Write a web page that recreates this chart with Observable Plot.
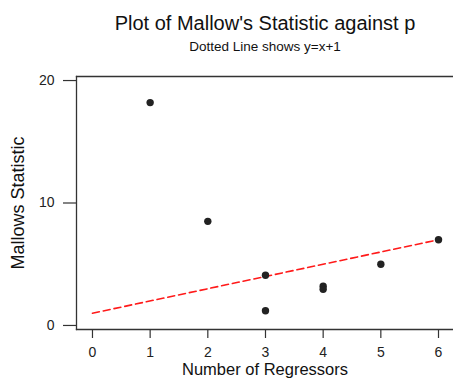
<!DOCTYPE html>
<html><head><meta charset="utf-8">
<script src="https://cdn.jsdelivr.net/npm/d3@7"></script>
<script src="https://cdn.jsdelivr.net/npm/@observablehq/plot@0.6"></script>
<style>
html,body{margin:0;padding:0;background:#fff;overflow:hidden;}
</style>
</head><body>
<div id="chart"></div>
<script>
const title = "Plot of Mallow's Statistic against p";
const subtitle = "Dotted Line shows y=x+1";
const xLabel = "Number of Regressors";
const yLabel = "Mallows Statistic";
const regressors = [1, 2, 3, 3, 4, 4, 5, 6];
const mallowsCp = [18.2, 8.5, 4.1, 1.2, 3.2, 2.95, 5.0, 7.0];
const lineX = [0, 6];
const xTicks = [0, 1, 2, 3, 4, 5, 6];
const yTicks = [0, 10, 20];

const points = regressors.map((p, i) => ({p, cp: mallowsCp[i]}));
const ref = lineX.map(p => ({p, cp: p + 1}));

const font = "'Liberation Sans', Arial, sans-serif";
const chart = Plot.plot({
  width: 453, height: 381,
  marginLeft: 76, marginRight: 0, marginTop: 76, marginBottom: 52,
  style: {fontFamily: font, background: "#fff", color: "#222"},
  x: {domain: [-0.277, 6.26], ticks: xTicks},
  y: {domain: [-0.33, 20.33], ticks: yTicks},
  marks: [
    Plot.frame({anchor: "top", stroke: "#333", strokeWidth: 1.3}),
    Plot.frame({anchor: "left", stroke: "#333", strokeWidth: 1.3}),
    Plot.frame({anchor: "bottom", stroke: "#333", strokeWidth: 1.3}),
    Plot.axisX({ticks: xTicks, tickFormat: "d", tickSize: 9, tickPadding: 9, fontSize: 14, label: null, stroke: "#333", strokeWidth: 1.2}),
    Plot.axisY({ticks: yTicks, tickFormat: "d", tickSize: 13, tickPadding: 9, fontSize: 14, label: null, stroke: "#333", strokeWidth: 1.2}),
    Plot.line(ref, {x: "p", y: "cp", stroke: "#ff1a1a", strokeWidth: 1.6, strokeDasharray: "7,4"}),
    Plot.dot(points, {x: "p", y: "cp", r: 3.7, fill: "#222", stroke: "none"}),
    Plot.text([title], {frameAnchor: "top", dy: -61, fontSize: 20, fill: "#111"}),
    Plot.text([subtitle], {frameAnchor: "top", dy: -35, fontSize: 13.5, fill: "#111"}),
    Plot.text([xLabel], {frameAnchor: "bottom", dy: 45, fontSize: 16.5, fill: "#111"}),
    Plot.text([yLabel], {frameAnchor: "left", dx: -58, rotate: -90, textAnchor: "middle", fontSize: 18, fill: "#111"})
  ]
});
document.getElementById("chart").appendChild(chart);
</script>
</body></html>
